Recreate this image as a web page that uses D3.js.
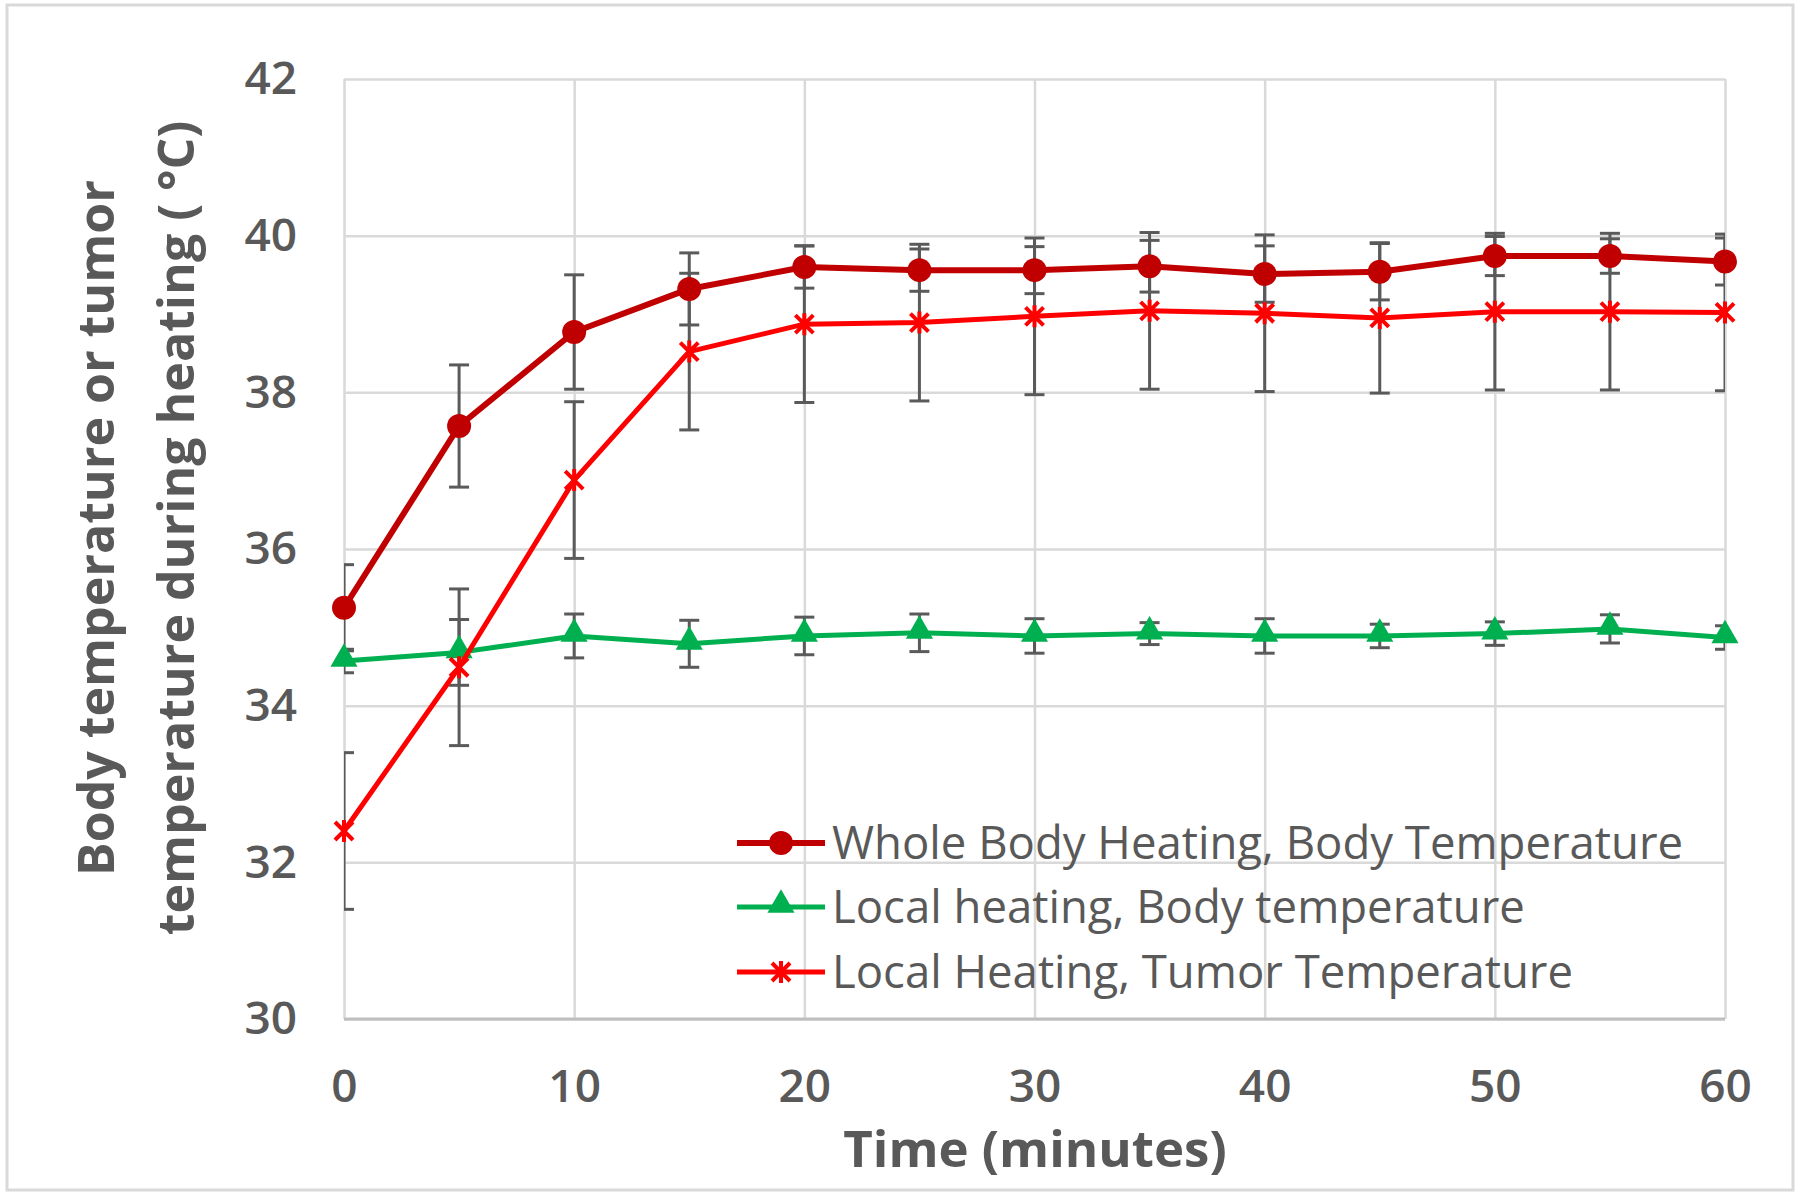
<!DOCTYPE html>
<html>
<head>
<meta charset="utf-8">
<script src="https://cdn.jsdelivr.net/npm/d3@7"></script>
<style>
  body { margin: 0; background: #fff; }
  svg { display: block; }
</style>
</head>
<body>
<svg id="chart" width="1800" height="1194"></svg>
<script>
// time points (minutes)
const times = [0, 5, 10, 15, 20, 25, 30, 35, 40, 45, 50, 55, 60];

// whole body heating, body temperature
const wholeBody    = [35.25, 37.57, 38.77, 39.32, 39.60, 39.56, 39.56, 39.61, 39.51, 39.54, 39.74, 39.74, 39.67];
const wholeBodyErr = [0.55, 0.78, 0.73, 0.46, 0.27, 0.27, 0.30, 0.33, 0.36, 0.36, 0.25, 0.22, 0.30];

// local heating, body temperature
const localBody    = [34.57, 34.68, 34.89, 34.79, 34.89, 34.93, 34.89, 34.92, 34.89, 34.89, 34.92, 34.98, 34.87];
const localBodyErr = [0.15, 0.42, 0.28, 0.30, 0.24, 0.24, 0.22, 0.14, 0.22, 0.15, 0.15, 0.18, 0.15];

// local heating, tumor temperature
const localTumor    = [32.40, 34.49, 36.88, 38.52, 38.87, 38.89, 38.97, 39.04, 39.01, 38.95, 39.03, 39.03, 39.02];
const localTumorErr = [1.0, 1.0, 1.0, 1.0, 1.0, 1.0, 1.0, 1.0, 1.0, 0.96, 1.0, 1.0, 1.0];

const xTicks = [0, 10, 20, 30, 40, 50, 60];
const yTicks = [30, 32, 34, 36, 38, 40, 42];

const seriesNames = [
  'Whole Body Heating, Body Temperature',
  'Local heating, Body temperature',
  'Local Heating, Tumor Temperature'
];

const textColor = '#595959';
const gridColor = '#d9d9d9';
const errColor = '#5a5a5a';

const plot = { left: 344, right: 1725, top: 79, bottom: 1019 };

const svg = d3.select('#chart');

// outer frame
svg.append('rect')
  .attr('x', 7).attr('y', 5)
  .attr('width', 1786).attr('height', 1185)
  .attr('fill', '#fff')
  .attr('stroke', gridColor)
  .attr('stroke-width', 3);

const xScale = d3.scaleLinear().domain([0, 60]).range([plot.left, plot.right]);
const yScale = d3.scaleLinear().domain([30, 42]).range([plot.bottom, plot.top]);

// grid lines
svg.append('g')
  .attr('class', 'grid')
  .attr('transform', `translate(0, ${plot.bottom})`)
  .call(d3.axisBottom(xScale).tickValues(xTicks).tickSize(-(plot.bottom - plot.top)).tickFormat(''))
  .call(g => g.select('.domain').remove())
  .call(g => g.selectAll('line').attr('stroke', gridColor).attr('stroke-width', 2.5));

svg.append('g')
  .attr('class', 'grid')
  .attr('transform', `translate(${plot.left}, 0)`)
  .call(d3.axisLeft(yScale).tickValues(yTicks).tickSize(-(plot.right - plot.left)).tickFormat(''))
  .call(g => g.select('.domain').remove())
  .call(g => g.selectAll('line').attr('stroke', gridColor).attr('stroke-width', 2.5));

// bottom axis line
svg.append('line')
  .attr('x1', plot.left).attr('x2', plot.right)
  .attr('y1', plot.bottom).attr('y2', plot.bottom)
  .attr('stroke', '#bfbfbf').attr('stroke-width', 3);

// tick labels
const xAxis = svg.append('g')
  .attr('transform', `translate(0, ${plot.bottom})`)
  .call(d3.axisBottom(xScale).tickValues(xTicks).tickSize(0).tickPadding(50));
xAxis.select('.domain').remove();
xAxis.selectAll('text')
  .attr('fill', textColor)
  .style('font-family', '"Open Sans", sans-serif')
  .style('font-weight', 600)
  .style('font-size', '46px');

const yAxis = svg.append('g')
  .attr('transform', `translate(${plot.left}, 0)`)
  .call(d3.axisLeft(yScale).tickValues(yTicks).tickSize(0).tickPadding(47));
yAxis.select('.domain').remove();
yAxis.selectAll('text')
  .attr('fill', textColor)
  .style('font-family', '"Open Sans", sans-serif')
  .style('font-weight', 600)
  .style('font-size', '46px');

// axis titles
svg.append('text')
  .attr('x', 1035).attr('y', 1167)
  .attr('text-anchor', 'middle')
  .attr('fill', textColor)
  .style('font-family', '"Open Sans", sans-serif')
  .style('font-weight', 700)
  .style('font-size', '51px')
  .text('Time (minutes)');

const yTitle = svg.append('g')
  .attr('fill', textColor)
  .style('font-family', '"Open Sans", sans-serif')
  .style('font-weight', 700)
  .style('font-size', '50px')
  .attr('text-anchor', 'middle');

yTitle.append('text')
  .attr('transform', 'translate(114, 528) rotate(-90)')
  .text('Body temperature or tumor');
yTitle.append('text')
  .attr('transform', 'translate(194, 528) rotate(-90)')
  .text('temperature during heating ( °C)');

// clip for error bars
svg.append('clipPath').attr('id', 'plotClip')
  .append('rect')
  .attr('x', plot.left).attr('y', 0)
  .attr('width', plot.right - plot.left).attr('height', 1194);

const series = [
  { name: seriesNames[0], vals: wholeBody, errs: wholeBodyErr, color: '#c00000', width: 6, marker: 'circle' },
  { name: seriesNames[1], vals: localBody, errs: localBodyErr, color: '#00b050', width: 5, marker: 'triangle' },
  { name: seriesNames[2], vals: localTumor, errs: localTumorErr, color: '#ff0000', width: 5, marker: 'star' }
];

const starPath = 'M-9,-9L9,9M-9,9L9,-9M0,-11L0,11';
const triPath = d3.symbol().type(d3.symbolTriangle).size(320)();

function drawMarker(sel, s) {
  if (s.marker === 'circle') {
    sel.append('circle').attr('r', 12).attr('fill', s.color);
  } else if (s.marker === 'triangle') {
    sel.append('path').attr('d', triPath).attr('fill', s.color).attr('transform', 'translate(0,-2)');
  } else {
    sel.append('path').attr('d', starPath).attr('fill', 'none')
      .attr('stroke', s.color).attr('stroke-width', 4);
  }
}

// error bars
const errG = svg.append('g').attr('clip-path', 'url(#plotClip)');
series.forEach(s => {
  const pts = times.map((t, i) => ({ t: t, v: s.vals[i], e: s.errs[i] }));
  const g = errG.append('g')
    .attr('stroke', errColor)
    .attr('stroke-width', 3);
  g.selectAll('line.bar')
    .data(pts).enter().append('line')
    .attr('class', 'bar')
    .attr('x1', d => xScale(d.t)).attr('x2', d => xScale(d.t))
    .attr('y1', d => yScale(d.v + d.e)).attr('y2', d => yScale(d.v - d.e));
  g.selectAll('line.capTop')
    .data(pts).enter().append('line')
    .attr('class', 'capTop')
    .attr('x1', d => xScale(d.t) - 10).attr('x2', d => xScale(d.t) + 10)
    .attr('y1', d => yScale(d.v + d.e)).attr('y2', d => yScale(d.v + d.e));
  g.selectAll('line.capBot')
    .data(pts).enter().append('line')
    .attr('class', 'capBot')
    .attr('x1', d => xScale(d.t) - 10).attr('x2', d => xScale(d.t) + 10)
    .attr('y1', d => yScale(d.v - d.e)).attr('y2', d => yScale(d.v - d.e));
});

// lines and markers
const line = d3.line()
  .x((d, i) => xScale(times[i]))
  .y(d => yScale(d));

series.forEach(s => {
  svg.append('path')
    .datum(s.vals)
    .attr('fill', 'none')
    .attr('stroke', s.color)
    .attr('stroke-width', s.width)
    .attr('stroke-linejoin', 'round')
    .attr('d', line);

  svg.append('g').selectAll('g')
    .data(s.vals).enter().append('g')
    .attr('transform', (d, i) => `translate(${xScale(times[i])}, ${yScale(d)})`)
    .each(function () { drawMarker(d3.select(this), s); });
});

// legend
const legendY = [843, 907, 972];
const legend = svg.append('g');
series.forEach((s, i) => {
  const row = legend.append('g').attr('transform', `translate(0, ${legendY[i]})`);
  row.append('line')
    .attr('x1', 737).attr('x2', 825)
    .attr('stroke', s.color).attr('stroke-width', s.width);
  drawMarker(row.append('g').attr('transform', 'translate(781, 0)'), s);
  row.append('text')
    .attr('x', 832).attr('dy', '0.35em')
    .attr('fill', textColor)
    .style('font-family', '"Open Sans", sans-serif')
    .style('font-size', '45.5px')
    .text(s.name);
});
</script>
</body>
</html>
